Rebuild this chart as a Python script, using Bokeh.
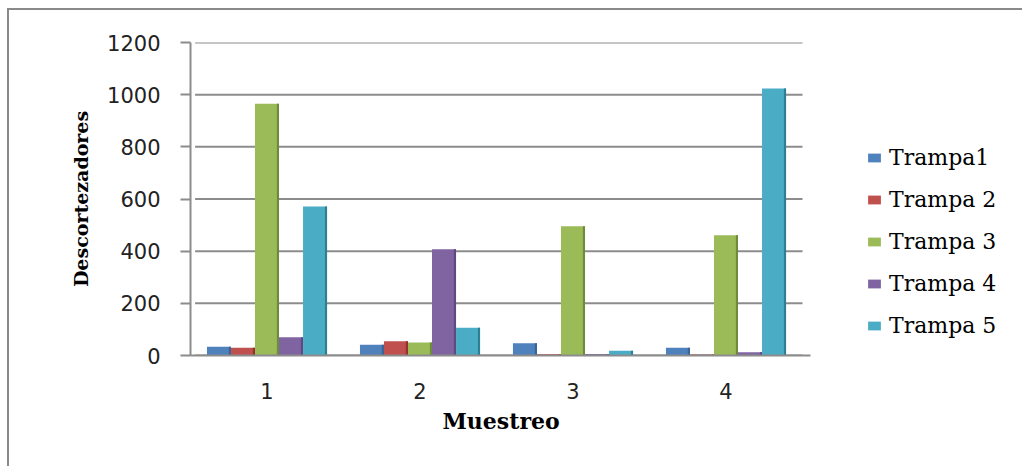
from bokeh.plotting import figure
from bokeh.models import ColumnDataSource, Range1d, Legend, LegendItem, Title
from bokeh.transform import dodge
from bokeh.embed import file_html
from bokeh.resources import INLINE

muestreos = ["1", "2", "3", "4"]
series_names = ["Trampa1", "Trampa 2", "Trampa 3", "Trampa 4", "Trampa 5"]
trampa1 = [34, 41, 47, 30]
trampa2 = [30, 55, 5, 4]
trampa3 = [965, 50, 496, 461]
trampa4 = [70, 407, 6, 12]
trampa5 = [571, 106, 18, 1024]
colors = ["#4F81BD", "#C0504D", "#9BBB59", "#8064A2", "#4BACC6"]
side_colors = ["#3A6496", "#96302E", "#6F8A3A", "#5E4980", "#2F7F93"]
y_ticks = [0, 200, 400, 600, 800, 1000, 1200]

n = len(muestreos)
xpos = list(range(1, n + 1))
src = ColumnDataSource(dict(x=xpos, t1=trampa1, t2=trampa2, t3=trampa3, t4=trampa4, t5=trampa5))

# plot area for categories spans 612 px; frame continues to the right to hold the legend
cat_px = 612.0 / n
frame_px = 1015 - 181
x_end = 0.5 + frame_px / cat_px

p = figure(width=1015, height=458, x_range=Range1d(0.5, x_end), y_range=Range1d(0, 1200),
           output_backend="svg", toolbar_location=None,
           min_border_left=181, min_border_right=0, min_border_top=32, min_border_bottom=113)
p.styles = {"margin-left": "7px", "margin-top": "8px",
            "border-left": "2px solid #8a8a8a", "border-top": "2px solid #8a8a8a"}
p.outline_line_color = None
p.background_fill_color = "white"
p.border_fill_color = "white"

# horizontal gridlines limited to the category area
p.xgrid.grid_line_color = None
p.ygrid.grid_line_color = None
p.segment(x0=[0.5 + 0.03] * len(y_ticks), x1=[n + 0.5] * len(y_ticks), y0=y_ticks, y1=y_ticks,
          line_color="#8c8c8c", line_width=2)

bw = 0.157
sw = 0.014
offsets = [-2 * bw, -bw, 0, bw, 2 * bw]
cols = ["t1", "t2", "t3", "t4", "t5"]
renderers = []
for c, off, col, scol in zip(cols, offsets, colors, side_colors):
    r = p.vbar(x=dodge("x", off), top=c, width=bw, source=src, fill_color=col, line_color=None)
    p.vbar(x=dodge("x", off + bw / 2 - sw / 2), top=c, width=sw, source=src,
           fill_color=scol, line_color=None)
    renderers.append(r)

# y axis
p.yaxis.ticker = y_ticks
p.yaxis.axis_line_color = "#8c8c8c"
p.yaxis.axis_line_width = 2
p.yaxis.major_tick_line_color = "#8c8c8c"
p.yaxis.major_tick_line_width = 2
p.yaxis.major_tick_out = 10
p.yaxis.major_tick_in = 0
p.yaxis.minor_tick_line_color = None
p.yaxis.major_label_standoff = 20
p.yaxis.major_label_text_font = "DejaVu Sans"
p.yaxis.major_label_text_font_size = "21px"
p.yaxis.major_label_text_color = "#222222"
p.yaxis.axis_label = "Descortezadores"
p.yaxis.axis_label_text_font = "DejaVu Serif"
p.yaxis.axis_label_text_font_style = "bold"
p.yaxis.axis_label_text_font_size = "19px"
p.yaxis.axis_label_text_color = "black"
p.yaxis.axis_label_standoff = 12

# x axis
p.xaxis.ticker = xpos
p.xaxis.major_label_overrides = {x: m for x, m in zip(xpos, muestreos)}
p.xaxis.bounds = (0.5, n + 0.55)
p.xaxis.axis_line_color = "#8c8c8c"
p.xaxis.axis_line_width = 2
p.xaxis.major_tick_line_color = None
p.xaxis.minor_tick_line_color = None
p.xaxis.major_label_standoff = 21
p.xaxis.major_label_text_font = "DejaVu Sans"
p.xaxis.major_label_text_font_size = "21px"
p.xaxis.major_label_text_color = "#222222"

# x axis title, centred under the category area
xtitle = Title(text="Muestreo", align="left", offset=252, standoff=8,
               text_font="DejaVu Serif", text_font_style="bold", text_font_size="22px",
               text_color="black")
p.add_layout(xtitle, "below")

# legend
items = [LegendItem(label=s, renderers=[r]) for s, r in zip(series_names, renderers)]
legend = Legend(items=items, location=(676, 17), orientation="vertical",
                glyph_width=16, glyph_height=11, label_height=11, spacing=17,
                label_standoff=7, padding=0, margin=0,
                label_text_font="DejaVu Serif", label_text_font_size="22px",
                label_text_color="black", border_line_color=None, background_fill_alpha=0)
p.add_layout(legend, "center")

open("out.html", "w").write(file_html(p, INLINE))
